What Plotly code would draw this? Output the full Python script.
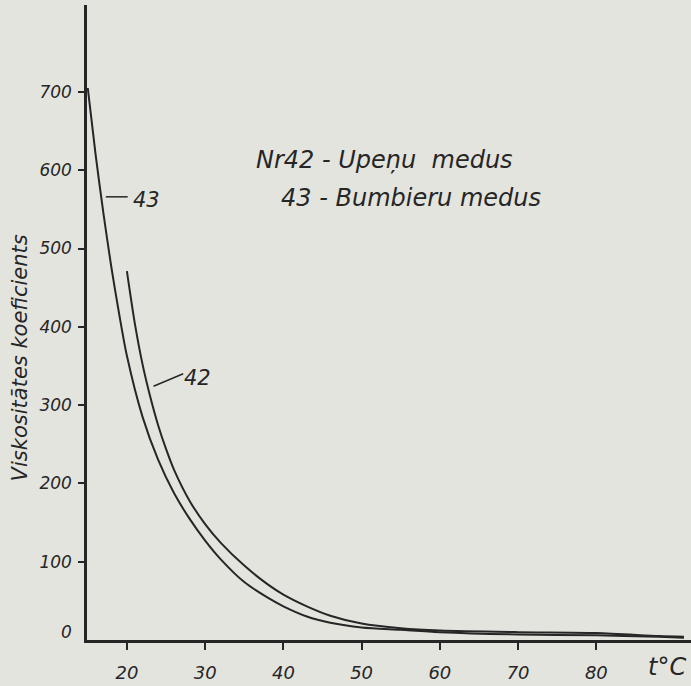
import plotly.graph_objects as go

# Curve Nr 43 - Bumbieru medus (pear honey)
temp_43 = [15, 16, 17, 18, 19, 20, 22, 24, 26, 28, 30, 32, 35, 38, 40, 43, 46, 50, 55, 60, 70, 80, 88, 91.2]
visc_43 = [705, 620, 545, 477, 417, 363, 285, 230, 188, 155, 127, 103, 74, 54, 43, 30, 22, 16, 13, 10, 7, 6, 4, 3]

# Curve Nr 42 - Upeņu medus (blackcurrant honey)
temp_42 = [20, 21, 22, 23, 24, 25, 26, 28, 30, 32, 35, 38, 40, 43, 46, 50, 55, 60, 70, 80, 88, 91.2]
visc_42 = [471, 405, 352, 310, 274, 244, 218, 178, 148, 124, 95, 71, 58, 43, 31, 21, 15, 12, 10, 9, 5, 4]

x_ticks = [20, 30, 40, 50, 60, 70, 80]
y_ticks = [100, 200, 300, 400, 500, 600, 700]

INK = "#262626"
PAPER = "#e4e4df"
FONT = "DejaVu Sans"

fig = go.Figure()
for t, v in ((temp_43, visc_43), (temp_42, visc_42)):
    fig.add_trace(go.Scatter(x=t, y=v, mode="lines",
                             line=dict(color=INK, width=2, shape="spline", smoothing=0.8),
                             showlegend=False, hoverinfo="skip"))

fig.update_layout(
    width=691, height=686,
    margin=dict(l=87, r=0, t=5, b=46),
    paper_bgcolor=PAPER, plot_bgcolor=PAPER,
    font=dict(family=FONT, color=INK),
    xaxis=dict(range=[14.9, 92.1], tickvals=x_ticks, ticks="outside", ticklen=7, tickwidth=2,
               tickcolor=INK, showline=True, linecolor=INK, linewidth=2.5, showgrid=False,
               zeroline=False, ticklabelstandoff=8,
               tickfont=dict(size=18, style="italic", family=FONT, color=INK)),
    yaxis=dict(range=[0, 811], tickvals=y_ticks, ticks="outside", ticklen=6, tickwidth=2,
               tickcolor=INK, showline=True, linecolor=INK, linewidth=2.5, showgrid=False,
               zeroline=False, ticklabelstandoff=3,
               tickfont=dict(size=17, style="italic", family=FONT, color=INK)),
)

ann_font = dict(family=FONT, size=24, color=INK, style="italic")
fig.add_annotation(text="Nr42 - Upeņu  medus", x=36.2, y=613, xref="x", yref="y",
                   xanchor="left", yanchor="middle", showarrow=False, font=ann_font)
fig.add_annotation(text="43 - Bumbieru medus", x=39.4, y=564, xref="x", yref="y",
                   xanchor="left", yanchor="middle", showarrow=False, font=ann_font)

# curve labels
lab_font = dict(family=FONT, size=21, color=INK, style="italic")
fig.add_annotation(text="43", x=20.5, y=562, xref="x", yref="y", xanchor="left",
                   yanchor="middle", showarrow=False, font=lab_font)
fig.add_shape(type="line", x0=17.3, y0=566, x1=20.1, y1=566, xref="x", yref="y",
              line=dict(color=INK, width=1.5))
fig.add_annotation(text="42", x=27.0, y=335, xref="x", yref="y", xanchor="left",
                   yanchor="middle", showarrow=False, font=lab_font)
fig.add_shape(type="line", x0=23.4, y0=324, x1=27.2, y1=340, xref="x", yref="y",
              line=dict(color=INK, width=1.5))

# zero label on y axis
fig.add_annotation(text="0", x=0, y=0, xref="paper", yref="y", xanchor="right",
                   yanchor="middle", xshift=-13, yshift=8, showarrow=False,
                   font=dict(family=FONT, size=17, color=INK, style="italic"))

# axis titles
fig.add_annotation(text="Viskositātes koeficients", x=-0.111, y=0.445, xref="paper", yref="paper",
                   textangle=-90, showarrow=False, xanchor="center", yanchor="middle",
                   font=dict(family=FONT, size=21, color=INK, style="italic"))
fig.add_annotation(text="t°C", x=1.0, y=0, xref="paper", yref="paper", xanchor="right",
                   yanchor="middle", yshift=-27, xshift=-3, showarrow=False,
                   font=dict(family=FONT, size=24, color=INK, style="italic"))

fig.write_html("out.html", config={"displayModeBar": False},
               post_script="document.body.style.margin='0';document.body.style.padding='0';")
